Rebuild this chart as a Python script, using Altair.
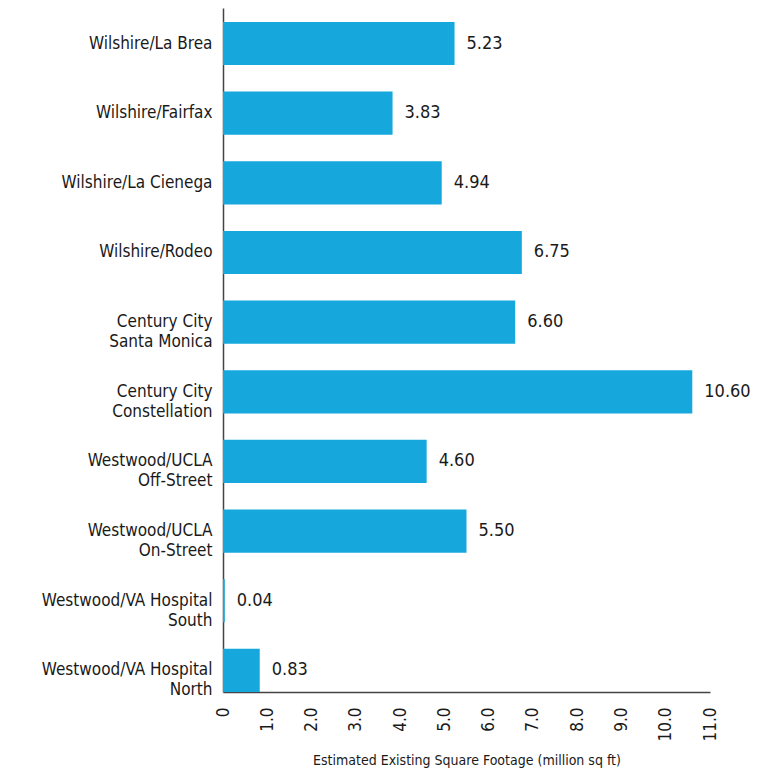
import altair as alt
import pandas as pd

categories = [
    "Wilshire/La Brea",
    "Wilshire/Fairfax",
    "Wilshire/La Cienega",
    "Wilshire/Rodeo",
    "Century City\nSanta Monica",
    "Century City\nConstellation",
    "Westwood/UCLA\nOff-Street",
    "Westwood/UCLA\nOn-Street",
    "Westwood/VA Hospital\nSouth",
    "Westwood/VA Hospital\nNorth",
]
values = [5.23, 3.83, 4.94, 6.75, 6.60, 10.60, 4.60, 5.50, 0.04, 0.83]
x_ticks = [0, 1, 2, 3, 4, 5, 6, 7, 8, 9, 10, 11]

df = pd.DataFrame({"cat": categories, "val": values})

FONT = "DejaVu Sans Condensed, Roboto, sans-serif"
BAR = "#16a8dc"

y_enc = alt.Y(
    "cat:N",
    sort=None,
    scale=alt.Scale(paddingInner=0.38, paddingOuter=0.1, align=1),
    axis=alt.Axis(
        title=None,
        ticks=False,
        labelExpr="split(datum.label, '\\n')",
        labelFont=FONT,
        labelFontSize=17,
        labelColor="#1a1a1a",
        labelPadding=11,
        labelLineHeight=20,
        domainColor="#444444",
        domainWidth=1.5,
        grid=False,
        labelLimit=300,
    ),
)

x_enc = alt.X(
    "val:Q",
    scale=alt.Scale(domain=[0, 11], nice=False, zero=True),
    axis=alt.Axis(
        title="Estimated Existing Square Footage (million sq ft)",
        values=x_ticks,
        labelExpr="datum.value == 0 ? '0' : format(datum.value, '.1f')",
        labelAngle=270,
        labelAlign="right",
        labelBaseline="middle",
        labelFont=FONT,
        labelFontSize=17,
        labelColor="#1a1a1a",
        labelPadding=15,
        ticks=False,
        grid=False,
        domainColor="#444444",
        domainWidth=1.5,
        titleFont=FONT,
        titleFontSize=14,
        titleFontWeight="normal",
        titleColor="#1a1a1a",
        titlePadding=12,
        labelFlush=False,
    ),
)

bars = alt.Chart(df).mark_bar(color=BAR).encode(x=x_enc, y=y_enc)

text = alt.Chart(df).mark_text(
    align="left", baseline="middle", dx=12, font=FONT, fontSize=18, color="#1a1a1a"
).encode(
    x=alt.X("val:Q"),
    y=alt.Y("cat:N", sort=None),
    text=alt.Text("val:Q", format=".2f"),
)

chart = (
    alt.layer(bars, text)
    .properties(
        width=487,
        height=684,
        autosize=alt.AutoSizeParams(type="none"),
        padding={"left": 215, "top": 0, "right": 45, "bottom": 76},
        background="white",
    )
    .configure_view(strokeWidth=0, stroke="transparent")
)

chart.save("out.html", embed_options={"renderer": "svg", "actions": False})
